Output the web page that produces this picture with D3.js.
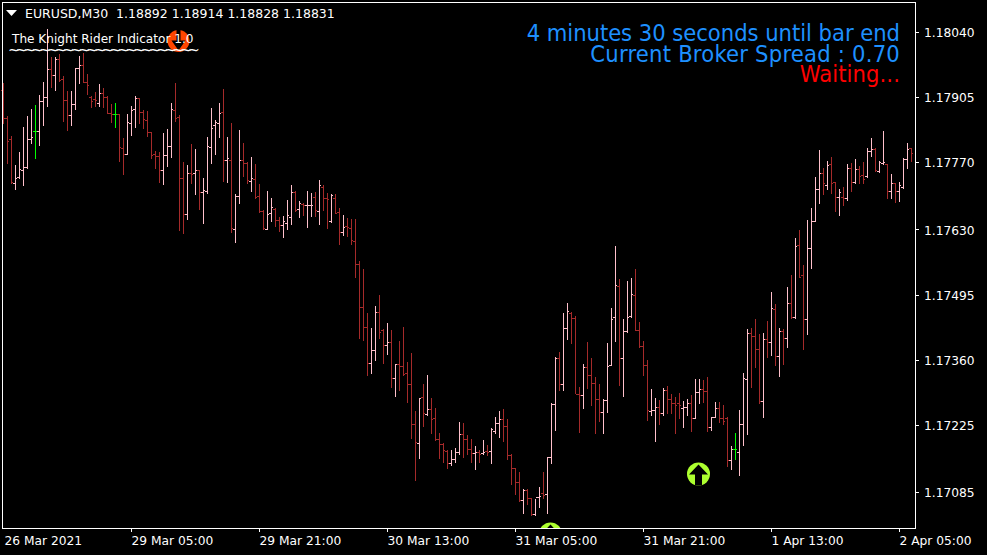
<!DOCTYPE html>
<html><head><meta charset="utf-8">
<script src="https://cdn.jsdelivr.net/npm/d3@7/dist/d3.min.js"></script>
<style>html,body{margin:0;padding:0;background:#000;overflow:hidden}svg{display:block}text{font-family:"DejaVu Sans",sans-serif}</style>
</head><body><svg id="c" width="987" height="555"></svg>
<script>
// Prices are expressed as points above 1.17000
const base = 1.17, unit = 1e-5;
const highs = [934,865,824,763,790,842,865,880,888,909,936,1046,988,988,994,948,917,917,965,990,996,952,907,915,932,923,907,890,892,869,820,869,886,907,903,878,876,832,793,790,830,838,892,934,867,770,763,807,797,753,736,822,882,857,892,921,822,851,703,836,809,770,780,766,724,670,709,695,674,655,658,691,722,709,689,685,709,705,707,732,722,705,703,703,674,660,653,651,651,564,548,456,425,471,494,423,435,421,350,398,427,354,373,253,280,309,328,280,259,207,186,172,172,176,230,228,203,195,180,172,193,182,217,240,253,257,236,163,134,126,91,91,72,70,95,126,157,269,365,375,456,477,458,450,303,350,396,363,323,309,278,394,467,595,527,444,523,529,548,438,398,359,298,280,276,301,305,288,282,290,273,278,286,319,319,317,323,240,271,271,265,240,180,207,255,332,423,425,444,413,415,440,500,475,425,423,510,535,612,629,556,649,674,739,795,757,772,780,728,714,718,766,768,776,761,770,799,820,799,772,834,766,745,726,728,778,809,799];
const lows = [851,768,726,714,736,722,757,809,778,805,846,886,925,919,938,855,836,846,880,934,936,911,884,886,886,884,871,853,842,772,745,786,826,842,851,840,824,778,757,728,724,761,780,855,629,622,651,726,703,672,643,705,768,786,822,730,728,624,604,685,741,726,709,695,666,631,631,647,637,626,614,631,641,668,655,660,635,658,658,641,670,633,645,664,599,618,616,599,531,404,400,328,332,359,404,352,371,303,284,296,328,271,197,109,155,222,244,207,193,155,147,134,141,147,163,157,163,147,132,147,163,161,145,207,199,190,153,101,80,66,41,60,37,37,53,72,41,145,213,296,296,402,394,290,209,259,301,265,207,232,207,251,348,398,307,284,417,448,421,386,328,234,244,190,226,244,249,249,207,238,220,244,211,238,269,271,211,213,240,230,226,139,132,153,120,182,205,303,344,269,240,365,369,348,325,350,386,446,446,531,381,413,550,647,685,703,714,705,668,660,680,691,709,726,726,726,739,782,751,749,766,695,695,687,689,716,757,772];
const opens = [919,861,817,726,739,753,759,817,834,834,896,905,963,950,984,942,898,867,890,965,971,936,905,901,892,913,905,871,869,869,799,786,851,880,903,873,857,832,786,782,753,784,803,878,863,736,662,747,747,753,707,709,801,846,851,873,774,774,631,699,774,768,730,734,699,668,631,664,672,649,639,643,655,707,672,683,680,680,697,668,718,695,647,695,666,624,637,633,606,558,469,427,352,379,458,421,390,396,321,350,346,332,309,226,186,282,247,257,238,195,184,170,145,153,168,205,195,174,166,168,166,170,170,211,228,236,222,161,134,105,68,89,72,39,74,83,80,157,267,363,309,425,456,446,288,286,344,328,311,278,251,276,348,448,512,363,419,450,494,421,388,348,253,255,261,249,296,278,269,269,259,261,269,238,292,298,294,220,240,259,238,238,151,174,168,226,319,415,408,381,274,402,396,465,367,419,404,477,448,597,535,444,591,647,714,747,722,766,728,697,697,695,757,728,755,743,741,793,797,751,768,766,709,726,709,718,776,799];
const closes = [861,813,728,736,755,759,817,822,834,896,905,963,950,984,940,898,867,890,965,971,936,930,896,898,913,905,871,869,869,801,786,853,878,903,873,859,832,784,782,753,784,803,880,861,736,662,747,745,753,707,712,803,840,853,871,774,778,633,699,774,768,732,736,697,668,633,662,676,649,639,647,660,707,670,685,680,681,681,670,722,695,693,701,664,624,635,635,608,558,469,427,352,379,458,417,390,396,321,350,346,330,309,226,188,280,249,257,236,195,184,172,145,153,168,205,195,174,166,168,163,168,169,215,228,236,222,161,134,105,68,89,72,39,74,76,78,157,267,363,309,425,460,446,288,286,344,328,311,278,251,276,346,444,514,363,419,448,496,421,388,348,255,255,261,249,296,278,269,265,265,261,269,238,292,298,294,220,240,259,238,232,151,174,174,226,321,415,408,381,274,402,396,467,367,419,404,477,448,595,531,444,591,647,714,747,726,763,726,697,707,695,757,728,755,741,734,793,797,753,770,770,709,726,709,722,776,797,788];

const priceTicks = [1.18040,1.17905,1.17770,1.17630,1.17495,1.17360,1.17225,1.17085];
const timeTickBars = [0,32,64,96,128,160,192,224];
const timeTickLabels = ["26 Mar 2021","29 Mar 05:00","29 Mar 21:00","30 Mar 13:00","31 Mar 05:00","31 Mar 21:00","1 Apr 13:00","2 Apr 05:00"];
const titleText = "EURUSD,M30  1.18892 1.18914 1.18828 1.18831";
const indicatorText = "The Knight Rider Indicator 1.0";
const infoLines = ["4 minutes 30 seconds until bar end","Current Broker Spread : 0.70","Waiting..."];
const signalBars = [44,174,137];
const signalPoints = [1021,122,-2];
const signalDirs = ["down","up","up"];

const price = v => base + v*unit;
const svg = d3.select("#c");
const plotLeft=2, plotRight=915, plotTop=2, plotBottom=528;
const x = d3.scaleLinear().domain([0,227]).range([3,911]);
const y = d3.scaleLinear().domain([1.17085,1.18040]).range([492,32]);

svg.append("defs").append("clipPath").attr("id","plot").append("rect")
  .attr("x",plotLeft).attr("y",plotTop).attr("width",plotRight-plotLeft).attr("height",plotBottom-plotTop);

const root = svg.append("g");
// signals
const sig = root.append("g").attr("clip-path","url(#plot)");
const arrow = d3.line();
signalBars.forEach((b,k)=>{
  const cx=Math.round(x(b))-0.5, cy=Math.round(y(price(signalPoints[k])));
  const up = signalDirs[k]==="up", col = up?"#adff2f":"#ff4500", r=up?11.5:11;
  const sw = up?3.5:2, hw = up?9.5:7;
  const g = sig.append("g").attr("transform",`translate(${cx},${cy})${up?"":" scale(1,-1)"}`);
  g.append("circle").attr("r",r).attr("fill",col);
  g.append("path").attr("fill","#000")
   .attr("d",arrow([[0,-9.5],[hw,0.5],[sw,0.5],[sw,11.5],[-sw,11.5],[-sw,0.5],[-hw,0.5]])+"Z");
});
// bars
const bars = root.append("g").attr("shape-rendering","crispEdges");
const colorOf = i => closes[i]>opens[i] ? "#ffc0cb" : closes[i]<opens[i] ? "#a52a2a" : "#00ff00";
const Y = v => Math.round(y(price(v)));
const barG = bars.selectAll("g").data(d3.range(highs.length)).join("g").attr("fill",colorOf);
barG.append("rect").attr("x",i=>x(i)).attr("y",i=>Y(highs[i])).attr("width",1).attr("height",i=>Y(lows[i])-Y(highs[i])+1);
barG.append("rect").attr("x",i=>x(i)-2).attr("y",i=>Y(opens[i])).attr("width",2).attr("height",1);
barG.append("rect").attr("x",i=>x(i)+1).attr("y",i=>Y(closes[i])).attr("width",1).attr("height",1);

// frame
const frame = root.append("g").attr("fill","#fff").attr("shape-rendering","crispEdges");
frame.append("rect").attr("x",plotLeft).attr("y",plotTop).attr("width",plotRight-plotLeft+1).attr("height",1);
frame.append("rect").attr("x",plotLeft).attr("y",plotBottom).attr("width",plotRight-plotLeft+1).attr("height",1);
frame.append("rect").attr("x",plotLeft).attr("y",plotTop).attr("width",1).attr("height",plotBottom-plotTop+1);
frame.append("rect").attr("x",plotRight).attr("y",plotTop).attr("width",1).attr("height",plotBottom-plotTop+1);

// axes
const ay = root.append("g").attr("transform",`translate(${plotRight+1},0)`)
  .call(d3.axisRight(y).tickValues(priceTicks).tickFormat(d3.format(".5f")).tickSize(3).tickPadding(5));
const ax = root.append("g").attr("transform",`translate(0,${plotBottom+1})`)
  .call(d3.axisBottom(x).tickValues(timeTickBars).tickFormat((d,i)=>timeTickLabels[i]).tickSize(3).tickPadding(4));
[ay,ax].forEach(a=>{a.select(".domain").remove();
  a.selectAll("line").attr("stroke","#fff").attr("shape-rendering","crispEdges");
  a.selectAll("text").attr("fill","#fff").style("font-size","12.25px").style("font-family","'DejaVu Sans'");});
ay.selectAll("text").attr("transform","translate(0,1)");
ax.selectAll("text").attr("text-anchor","start").attr("dx",(d,i)=>i?0:1);
ax.selectAll(".tick").filter((d,i)=>i==0).select("line").remove();

// title
root.append("path").attr("fill","#fff").attr("d",arrow([[6,10],[17,10],[11.5,16]])+"Z");
root.append("text").attr("x",25).attr("y",18).attr("fill","#fff").style("font-size","12.5px").style("white-space","pre").text(titleText);
root.append("text").attr("x",12).attr("y",43).attr("fill","#fff").style("font-size","12.1px").text(indicatorText);
root.append("text").attr("x",8).attr("y",55).attr("fill","#fff").style("font-size","14px").style("letter-spacing","-3.9px").text("~".repeat(24));

// info block
const infoColors=["#1e90ff","#1e90ff","#ff0000"], infoY=[41,62,82], infoSpacing=[-0.03,0.22,0.1];
infoLines.forEach((t,i)=>root.append("text").attr("x",900).attr("y",infoY[i]).attr("text-anchor","end").attr("fill",infoColors[i]).style("font-size","23.5px").style("letter-spacing",infoSpacing[i]+"px").style("font-family","'DejaVu Sans Condensed','DejaVu Sans'").style("font-stretch","condensed").text(t));
</script></body></html>
